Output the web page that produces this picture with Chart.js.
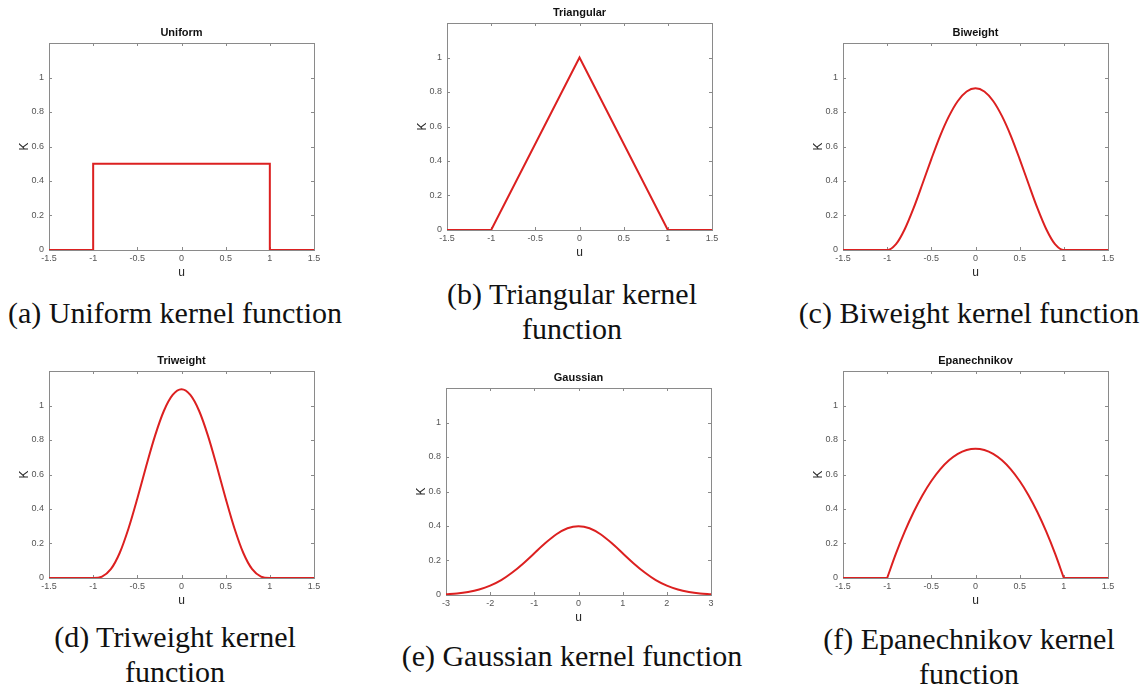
<!DOCTYPE html>
<html lang="en">
<head>
    <meta charset="UTF-8">
    <title>Kernel functions</title>
    <script src="https://cdn.jsdelivr.net/npm/chart.js"></script>
    <style>
        body { margin: 0; background: #fff; width: 1145px; height: 688px; position: relative; overflow: hidden; }
        canvas { position: absolute; }
        .cap {
            position: absolute;
            font-family: "Liberation Serif", serif;
            font-size: 30px;
            line-height: 35px;
            color: #111;
            text-align: center;
            white-space: nowrap;
        }
    </style>
</head>
<body>
<script>
    // values
    var titles = ['Uniform', 'Triangular', 'Biweight', 'Triweight', 'Gaussian', 'Epanechnikov'];
    var captions = [
        '(a) Uniform kernel function',
        '(b) Triangular kernel<br>function',
        '(c) Biweight kernel function',
        '(d) Triweight kernel<br>function',
        '(e) Gaussian kernel function',
        '(f) Epanechnikov kernel<br>function'
    ];

    var uniformU = [-1.5, -1, -1, 1, 1, 1.5];
    var uniformK = [0, 0, 0.5, 0.5, 0, 0];

    var triangularU = [-1.5, -1, 0, 1, 1.5];
    var triangularK = [0, 0, 1, 0, 0];

    var smoothU = [-1.5, -1, -0.9, -0.8, -0.7, -0.6, -0.5, -0.4, -0.3, -0.2, -0.1, 0,
                   0.1, 0.2, 0.3, 0.4, 0.5, 0.6, 0.7, 0.8, 0.9, 1, 1.5];
    var biweightK = [0, 0, 0.034, 0.122, 0.244, 0.384, 0.527, 0.662, 0.776, 0.864, 0.919, 0.938,
                     0.919, 0.864, 0.776, 0.662, 0.527, 0.384, 0.244, 0.122, 0.034, 0, 0];
    var triweightK = [0, 0, 0.008, 0.051, 0.145, 0.287, 0.461, 0.648, 0.824, 0.968, 1.061, 1.094,
                      1.061, 0.968, 0.824, 0.648, 0.461, 0.287, 0.145, 0.051, 0.008, 0, 0];

    var epanU = [-1, -0.9, -0.8, -0.7, -0.6, -0.5, -0.4, -0.3, -0.2, -0.1, 0,
                 0.1, 0.2, 0.3, 0.4, 0.5, 0.6, 0.7, 0.8, 0.9, 1];
    var epanK = [0, 0.1425, 0.27, 0.3825, 0.48, 0.5625, 0.63, 0.6825, 0.72, 0.7425, 0.75,
                 0.7425, 0.72, 0.6825, 0.63, 0.5625, 0.48, 0.3825, 0.27, 0.1425, 0];
    var tailU = [-1.5, -1, 0, 1, 1.5];
    var tailK = [0, 0, null, 0, 0];

    var gaussU = [-3, -2.75, -2.5, -2.25, -2, -1.75, -1.5, -1.25, -1, -0.75, -0.5, -0.25, 0,
                  0.25, 0.5, 0.75, 1, 1.25, 1.5, 1.75, 2, 2.25, 2.5, 2.75, 3];
    var gaussK = [0.004, 0.009, 0.018, 0.032, 0.054, 0.086, 0.13, 0.183, 0.242, 0.301, 0.352, 0.387, 0.399,
                  0.387, 0.352, 0.301, 0.242, 0.183, 0.13, 0.086, 0.054, 0.032, 0.018, 0.009, 0.004];

    var uTicks = [-1.5, -1, -0.5, 0, 0.5, 1, 1.5];
    var gaussTicks = [-3, -2, -1, 0, 1, 2, 3];
    var kTicks = [0, 0.2, 0.4, 0.6, 0.8, 1];

    // layout: top-left corner of each plot box
    var boxes = [
        { left: 49, top: 43 }, { left: 447, top: 23 }, { left: 843, top: 43 },
        { left: 49, top: 371 }, { left: 446, top: 388 }, { left: 843, top: 371 }
    ];
    var capPos = [
        { x: 175, y: 312 }, { x: 572, y: 293 }, { x: 969, y: 312 },
        { x: 175, y: 636 }, { x: 572, y: 655 }, { x: 969, y: 638 }
    ];
    var plotW = 265, plotH = 207;
    var mL = 45, mR = 20, mT = 30, mB = 40;
    var red = '#dc2020';

    function pts(xs, ys) {
        return xs.map(function (x, i) { return { x: x, y: ys[i] }; });
    }
    function line(data, smooth) {
        return {
            data: data,
            borderColor: red,
            borderWidth: 2,
            pointRadius: 0,
            tension: 0,
            cubicInterpolationMode: smooth ? 'monotone' : 'default',
            spanGaps: false
        };
    }

    var panelData = [
        [line(pts(uniformU, uniformK), false)],
        [line(pts(triangularU, triangularK), false)],
        [line(pts(smoothU, biweightK), true)],
        [line(pts(smoothU, triweightK), true)],
        [line(pts(gaussU, gaussK), true)],
        [line(pts(epanU, epanK), true), line(pts(tailU, tailK), false)]
    ];

    // MATLAB style box with inward ticks on all four sides
    var boxPlugin = {
        id: 'matlabBox',
        beforeDatasetsDraw: function (chart) {
            var a = chart.chartArea, ctx = chart.ctx;
            var xs = chart.scales.x, ys = chart.scales.y;
            ctx.save();
            ctx.strokeStyle = '#8a8a8a';
            ctx.lineWidth = 1;
            ctx.strokeRect(Math.round(a.left) + 0.5, Math.round(a.top) + 0.5,
                Math.round(a.right - a.left), Math.round(a.bottom - a.top));
            ctx.beginPath();
            xs.ticks.forEach(function (t) {
                var p = Math.round(xs.getPixelForValue(t.value)) + 0.5;
                ctx.moveTo(p, a.bottom); ctx.lineTo(p, a.bottom - 3);
                ctx.moveTo(p, a.top); ctx.lineTo(p, a.top + 3);
            });
            ys.ticks.forEach(function (t) {
                var p = Math.round(ys.getPixelForValue(t.value)) + 0.5;
                ctx.moveTo(a.left, p); ctx.lineTo(a.left + 3, p);
                ctx.moveTo(a.right, p); ctx.lineTo(a.right - 3, p);
            });
            ctx.stroke();
            ctx.restore();
        }
    };

    var tickFont = { family: '"Liberation Sans", Arial, sans-serif', size: 9 };
    var axisFont = { family: '"Liberation Sans", Arial, sans-serif', size: 12 };

    titles.forEach(function (title, i) {
        var b = boxes[i];
        var cv = document.createElement('canvas');
        cv.width = plotW + mL + mR;
        cv.height = plotH + mT + mB;
        cv.style.left = (b.left - mL) + 'px';
        cv.style.top = (b.top - mT) + 'px';
        document.body.appendChild(cv);

        var gauss = i === 4;
        var xt = gauss ? gaussTicks : uTicks;

        new Chart(cv, {
            type: 'line',
            data: { datasets: panelData[i] },
            options: {
                responsive: false,
                animation: false,
                devicePixelRatio: 1,
                layout: { padding: { left: mL - 35.2, right: mR, top: 0, bottom: mB - 34.2 } },
                plugins: {
                    legend: { display: false },
                    tooltip: { enabled: false },
                    title: {
                        display: true,
                        text: title,
                        fullSize: false,
                        color: '#111',
                        font: { family: '"Liberation Sans", Arial, sans-serif', size: 11, weight: 'bold', lineHeight: 1.2 },
                        padding: { top: 13.8, bottom: 3 }
                    }
                },
                scales: {
                    x: {
                        type: 'linear',
                        min: xt[0],
                        max: xt[xt.length - 1],
                        grid: { display: false, drawTicks: false },
                        border: { display: false },
                        afterBuildTicks: function (s) { s.ticks = xt.map(function (v) { return { value: v }; }); },
                        afterFit: function (s) { s.height = 34.2; },
                        ticks: {
                            autoSkip: false, maxRotation: 0, padding: 3,
                            color: '#555', font: tickFont,
                            callback: function (v) { return String(v); }
                        },
                        title: { display: true, text: 'u', color: '#262626', font: axisFont, padding: { top: 4, bottom: 4 } }
                    },
                    y: {
                        type: 'linear',
                        min: 0,
                        max: 1.2,
                        grid: { display: false, drawTicks: false },
                        border: { display: false },
                        afterBuildTicks: function (s) { s.ticks = kTicks.map(function (v) { return { value: v }; }); },
                        afterFit: function (s) { s.width = 35.2; },
                        ticks: {
                            padding: 5, color: '#555', font: tickFont,
                            callback: function (v) { return String(v); }
                        },
                        title: { display: true, text: 'K', color: '#262626', font: axisFont, padding: { top: 4, bottom: 4 } }
                    }
                }
            },
            plugins: [boxPlugin]
        });

        var c = document.createElement('div');
        c.className = 'cap';
        c.innerHTML = captions[i];
        c.style.left = (capPos[i].x - 200) + 'px';
        c.style.width = '400px';
        c.style.top = (capPos[i].y - 17.5) + 'px';
        document.body.appendChild(c);
    });
</script>
</body>
</html>
